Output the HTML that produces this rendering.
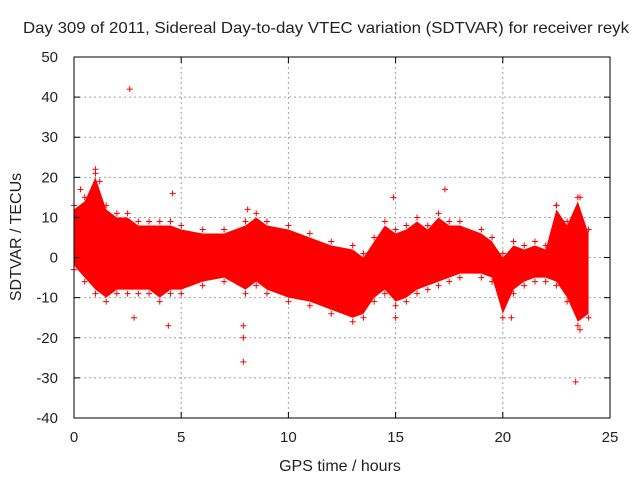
<!DOCTYPE html>
<html><head><meta charset="utf-8"><style>
html,body{margin:0;padding:0;background:#fff;}
svg{display:block;font-family:"Liberation Sans",sans-serif;}
</style></head><body>
<svg id="chart" width="640" height="480">
<rect width="640" height="480" fill="#fff"/>
<text x="326" y="33" font-size="16" text-anchor="middle" fill="#222" textLength="606" lengthAdjust="spacingAndGlyphs">Day 309 of 2011, Sidereal Day-to-day VTEC variation (SDTVAR) for receiver reyk</text>
<g id="grid"></g>
<g id="band"></g>
<g id="axes"></g>
<text x="340" y="471" font-size="16" text-anchor="middle" fill="#222">GPS time / hours</text>
<text transform="translate(21,237) rotate(-90)" font-size="16" text-anchor="middle" fill="#222">SDTVAR / TECUs</text>
</svg>
<script>
const xTicks=[0,5,10,15,20,25];
const yTicks=[50,40,30,20,10,0,-10,-20,-30,-40];
const times=[0,0.5,1,1.5,2,2.5,3,3.5,4,4.5,5,6,7,8,8.5,9,10,11,12,13,13.5,14,14.5,15,15.5,16,16.5,17,17.5,18,19,19.5,20,20.5,21,21.5,22,22.5,23,23.5,24];
const upper=[12,14,20,12,10,10,8,8,8,8,7,6,6,8,10,8,7,5,3,2,0,4,8,6,7,9,7,10,8,8,6,4,0,3,2,3,2,12,8,14,6];
const lower=[-2,-5,-8,-10,-8,-8,-8,-8,-10,-8,-8,-6,-5,-8,-6,-8,-10,-11,-13,-15,-14,-10,-8,-11,-10,-8,-7,-6,-5,-4,-4,-5,-14,-8,-6,-5,-5,-6,-10,-16,-14];
const outT=[2.6,7.9,23.4,15,1,0.3,1.2,4.6,7.9,7.9,8.1,17.3,14.9,23.6,23.6,2.8,4.4,20.4,22.5];
const outV=[42,-26,-31,-15,22,17,19,16,-20,-17,12,17,15,15,-18,-15,-17,-15,13];
const X0=74,X1=610,Y50=57,Ym40=418;
const sx=t=>X0+(t-0)/(25-0)*(X1-X0);
const sy=v=>Y50+(50-v)/(90)*(Ym40-Y50);
const NS="http://www.w3.org/2000/svg";
function mk(tag,attrs,parent){const e=document.createElementNS(NS,tag);for(const k in attrs)e.setAttribute(k,attrs[k]);parent.appendChild(e);return e;}
const grid=document.getElementById('grid'),axes=document.getElementById('axes'),band=document.getElementById('band');
xTicks.forEach(t=>{
 if(t>0&&t<25){const l=mk('line',{x1:sx(t),x2:sx(t),y1:Y50,y2:Ym40,stroke:'#a0a0a0','stroke-dasharray':'2,3'},grid);
 }
 const tx=mk('text',{x:sx(t),y:442,'font-size':15,'text-anchor':'middle',fill:'#222'},axes);tx.textContent=t;
 
 mk('line',{x1:sx(t),x2:sx(t),y1:Ym40,y2:Ym40-6,stroke:'#000'},axes);
 mk('line',{x1:sx(t),x2:sx(t),y1:Y50,y2:Y50+6,stroke:'#000'},axes);
});
yTicks.forEach(v=>{
 if(v<50&&v>-40){const l=mk('line',{x1:X0,x2:X1,y1:sy(v),y2:sy(v),stroke:'#a0a0a0','stroke-dasharray':'2,3'},grid);
 }
 const tx=mk('text',{x:58,y:sy(v)+5,'font-size':15,'text-anchor':'end',fill:'#222'},axes);tx.textContent=v;
 
 mk('line',{x1:X0,x2:X0+6,y1:sy(v),y2:sy(v),stroke:'#000'},axes);
 mk('line',{x1:X1,x2:X1-6,y1:sy(v),y2:sy(v),stroke:'#000'},axes);
});
const fr=mk('rect',{x:X0,y:Y50,width:X1-X0,height:Ym40-Y50,fill:'none',stroke:'#000'},axes);

let pts=times.map((t,i)=>sx(t)+','+sy(upper[i]));
pts=pts.concat(times.map((t,i)=>sx(t)+','+sy(lower[i])).reverse());
const pg=mk('polygon',{points:pts.join(' '),fill:'#ff0000'},band);

function plus(t,v){const g=mk('path',{d:`M${sx(t)-3},${sy(v)}h6M${sx(t)},${sy(v)-3}v6`,stroke:'#ff0000','stroke-width':1},band);
 }
times.forEach((t,i)=>{plus(t,upper[i]+1);plus(t,lower[i]-1);});
outT.forEach((t,i)=>plus(t,outV[i]));
</script>
</body></html>
